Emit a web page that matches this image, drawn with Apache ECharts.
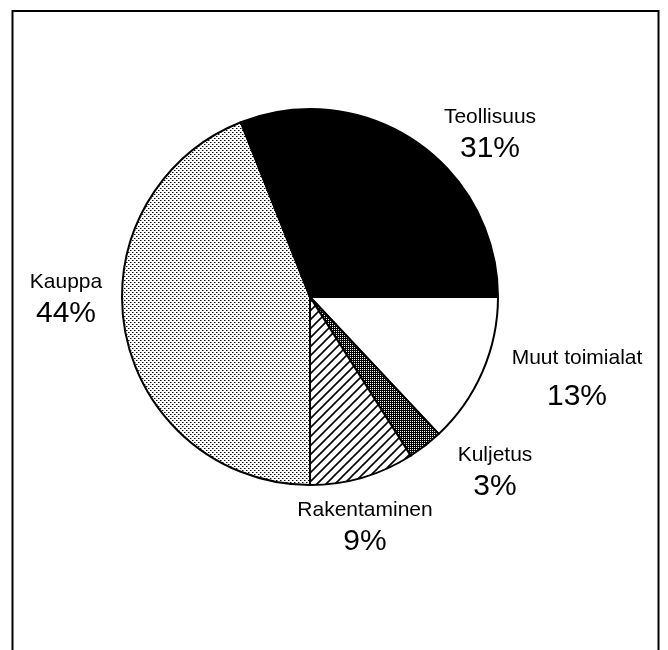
<!DOCTYPE html>
<html>
<head>
<meta charset="utf-8">
<script src="https://cdn.jsdelivr.net/npm/echarts@6/dist/echarts.min.js"></script>
<style>
  html, body { margin: 0; padding: 0; background: #fff; }
  #chart { width: 668px; height: 650px; }
</style>
</head>
<body>
<div id="chart"></div>
<script>
// data, clockwise from 3 o'clock
const categories = ['Muut toimialat', 'Kuljetus', 'Rakentaminen', 'Kauppa', 'Teollisuus']
const shares = [13, 3, 9, 44, 31]

// label block centres
const labelPos = [[577, 384], [495, 474], [365, 529], [66, 301], [490, 136]]

// fill patterns drawn on small canvases
const makeTile = (size, draw) => {
  const c = document.createElement('canvas')
  c.width = size
  c.height = size
  const ctx = c.getContext('2d')
  ctx.fillStyle = '#fff'
  ctx.fillRect(0, 0, size, size)
  draw(ctx, size)
  return { image: c, repeat: 'repeat' }
}

const lightDots = makeTile(4, (ctx) => {
  ctx.fillStyle = '#000'
  ctx.fillRect(0, 0, 1, 1)
  ctx.fillRect(2, 2, 1, 1)
  ctx.fillStyle = '#888'
  ctx.fillRect(1, 0, 1, 1)
  ctx.fillRect(3, 2, 1, 1)
})

const darkDots = makeTile(2, (ctx) => {
  ctx.fillStyle = '#000'
  ctx.fillRect(0, 0, 1, 1)
  ctx.fillRect(1, 1, 1, 1)
  ctx.fillRect(1, 0, 1, 1)
})

const hatch = makeTile(9, (ctx, s) => {
  ctx.strokeStyle = '#000'
  ctx.lineWidth = 1.6
  ctx.beginPath()
  ctx.moveTo(-2, s + 2)
  ctx.lineTo(s + 2, -2)
  ctx.moveTo(-2, 2)
  ctx.lineTo(2, -2)
  ctx.moveTo(s - 2, s + 2)
  ctx.lineTo(s + 2, s - 2)
  ctx.stroke()
})

const fills = ['#ffffff', darkDots, hatch, lightDots, '#000000']

const chart = echarts.init(document.getElementById('chart'))

const option = {
  backgroundColor: '#fff',
  animation: false,
  textStyle: { fontFamily: 'Liberation Sans' },
  graphic: [{
    type: 'rect',
    shape: { x: 12.5, y: 11, width: 646, height: 700 },
    style: { fill: 'none', stroke: '#000', lineWidth: 2 },
    silent: true
  }],
  series: [{
    type: 'pie',
    center: [310, 297],
    radius: 188,
    startAngle: 0,
    clockwise: true,
    emphasis: { disabled: true },
    itemStyle: {
      borderColor: '#000',
      borderWidth: 2
    },
    label: {
      show: true,
      position: 'outside',
      overflow: 'none',
      formatter: (p) => {
        const pct = p.dataIndex === 0 ? 'q' : 'p'
        return '{n|' + p.name + '}\n{' + pct + '|' + p.value + '%}'
      },
      rich: {
        n: { fontSize: 21, lineHeight: 26, color: '#000', fontFamily: 'Liberation Sans', align: 'center' },
        p: { fontSize: 30, lineHeight: 38, color: '#000', fontFamily: 'Liberation Sans', align: 'center' },
        q: { fontSize: 30, lineHeight: 52, color: '#000', fontFamily: 'Liberation Sans', align: 'center' }
      }
    },
    labelLine: { show: false },
    labelLayout: (params) => ({
      x: labelPos[params.dataIndex][0],
      y: labelPos[params.dataIndex][1],
      width: 200,
      align: 'center',
      verticalAlign: 'middle'
    }),
    data: categories.map((name, i) => ({
      name: name,
      value: shares[i],
      itemStyle: { color: fills[i] }
    }))
  }]
}

chart.setOption(option)
</script>
</body>
</html>
